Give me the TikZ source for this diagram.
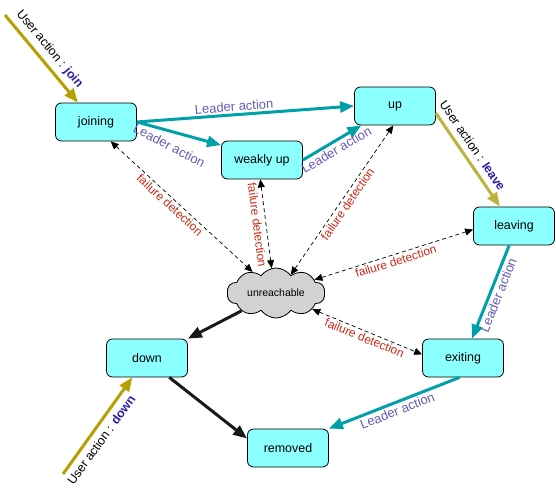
\documentclass[tikz,border=0pt]{standalone}
\usepackage{fontspec}
\setmainfont{Liberation Sans}
\usetikzlibrary{arrows.meta,shapes.symbols,positioning}
\definecolor{boxfill}{RGB}{140,255,255}
\definecolor{leadercolor}{RGB}{0,160,170}
\definecolor{usercolor}{RGB}{180,160,0}
\definecolor{leavecolor}{RGB}{190,178,60}
\definecolor{cloudfill}{RGB}{210,210,210}
\definecolor{leadertext}{RGB}{100,90,180}
\definecolor{failtext}{RGB}{205,40,20}
\definecolor{actiontext}{RGB}{45,30,170}
\tikzset{
  member state/.style={
    rectangle,
    rounded corners=6bp,
    draw=black,
    fill=boxfill,
    line width=0.8bp,
    minimum width=81bp,
    minimum height=38bp,
    font=\fontsize{12.5}{14}\selectfont
  },
  lost state/.style={
    cloud,
    cloud puffs=10,
    cloud puff arc=110,
    aspect=2.1,
    draw=black,
    fill=cloudfill,
    line width=0.8bp,
    minimum width=98bp,
    minimum height=50bp,
    inner sep=0pt,
    font=\fontsize{10.5}{12}\selectfont
  },
  leader arrow/.style={
    -{Triangle[length=14bp,width=11bp]},
    line width=3bp,
    draw=leadercolor
  },
  user arrow/.style={leader arrow, draw=usercolor},
  final arrow/.style={leader arrow, draw=black!90},
  fail link/.style={
    {Triangle[length=8bp,width=7bp]}-{Triangle[length=8bp,width=7bp]},
    dash pattern=on 4bp off 3bp,
    line width=0.7bp
  },
  leader label/.style={sloped, text=leadertext, font=\fontsize{13}{15}\selectfont, inner sep=2bp},
  fail label/.style={sloped, text=failtext, font=\fontsize{12}{14}\selectfont, inner sep=2bp},
  user label/.style={sloped, font=\fontsize{12.5}{14}\selectfont, inner sep=2bp}
}
\newcommand{\useract}[1]{User action : \textcolor{actiontext}{\textbf{#1}}}

\begin{document}
\begin{tikzpicture}[x=1bp, y=-1bp]
  \useasboundingbox (0,0) rectangle (556,495);

  % Member states
  \node[member state] (joining) at (96,122) {joining};
  \node[member state] (weakly) at (262,160) {weakly up};
  \node[member state] (up) at (395,106) {up};
  \node[member state] (leaving) at (514,226) {leaving};
  \node[member state] (exiting) at (463,358) {exiting};
  \node[member state] (down) at (147,358) {down};
  \node[member state] (removed) at (288,448) {removed};
  \node[lost state] (lost) at (276,293) {unreachable};

  % Free ends of user actions
  \coordinate (join in) at (5,15);
  \coordinate (down in) at (63,474);

  % User actions
  \draw[user arrow] (join in) -- node[user label, above=3bp, pos=0.48] {\useract{join}} (joining.133);
  \draw[user arrow, draw=leavecolor] (up.-10) -- node[user label, above=4bp, pos=0.42] {\useract{leave}} (leaving.126);
  \draw[user arrow] (down in) -- node[user label, below=3bp, pos=0.42] {\useract{down}} (down.-127);

  % Leader actions
  \draw[leader arrow] (joining.east) -- node[leader label, above, pos=0.45] {Leader action} (up.west);
  \draw[leader arrow] (joining.east) -- node[leader label, below=6bp, pos=0.45, rotate=-12] {Leader action} (weakly.160);
  \draw[leader arrow] (weakly.east) -- node[leader label, below] {Leader action} (up.210);
  \draw[leader arrow] (leaving.-104) -- node[leader label, below] {Leader action} (exiting.65);
  \draw[leader arrow] (exiting.-100) -- node[leader label, below] {Leader action} (removed.north east);

  % Towards removal
  \draw[final arrow] (lost) -- (down.north east);
  \draw[final arrow] (down.-41) -- (removed.167);

  % Failure detection
  \draw[fail link] (joining.-53) -- node[fail label, below, pos=0.45] {failure detection} (lost.138);
  \draw[fail link] (weakly.-95) -- node[fail label, below=2bp] {failure detection} (lost.100);
  \draw[fail link] (lost.51) -- node[fail label, below] {failure detection} (up.-95);
  \draw[fail link] (lost.19) -- node[fail label, below] {failure detection} (leaving.185);
  \draw[fail link] (lost.-24) -- node[fail label, below] {failure detection} (exiting.175);

\end{tikzpicture}
\end{document}
